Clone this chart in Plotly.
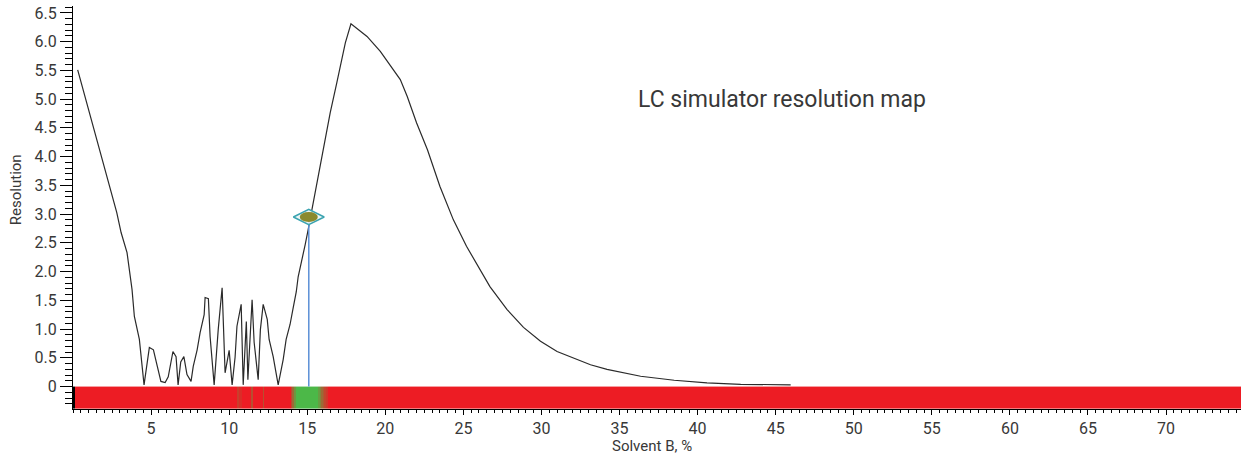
import plotly.graph_objects as go

# Resolution curve (Solvent B %, Resolution)
solvent_b = [0.3, 1.7, 2.8, 3.08, 3.46, 3.78, 3.93, 4.25, 4.55, 4.89, 5.15, 5.4, 5.63, 5.9, 6.1,
             6.4, 6.6, 6.73, 6.9, 7.1, 7.3, 7.56, 7.7, 7.95, 8.14, 8.4, 8.46, 8.67, 8.78, 9.04,
             9.3, 9.55, 9.74, 10.0, 10.19, 10.38, 10.5, 10.77, 10.9, 11.1, 11.2, 11.47, 11.6,
             11.86, 12.0, 12.18, 12.44, 12.56, 12.82, 13.14, 13.46, 13.65, 13.9, 14.1, 14.3,
             14.42, 14.68, 14.87, 15.06, 15.3, 15.62, 16.03, 16.47, 16.9, 17.44, 17.8, 18.83,
             19.68, 20.96, 21.4, 22.0, 22.7, 23.5, 24.36, 25.2, 26.7, 27.8, 28.85, 29.94, 31.0,
             32.05, 33.14, 34.2, 36.35, 38.5, 40.6, 42.76, 45.96]
resolution = [5.51, 4.12, 3.03, 2.68, 2.33, 1.69, 1.22, 0.82, 0.03, 0.68, 0.64, 0.35, 0.09, 0.07,
              0.17, 0.61, 0.52, 0.03, 0.43, 0.52, 0.21, 0.09, 0.35, 0.64, 0.94, 1.25, 1.55, 1.53,
              0.87, 0.03, 0.99, 1.72, 0.24, 0.63, 0.03, 0.51, 1.05, 1.43, 0.03, 1.13, 0.12, 1.51,
              0.77, 0.12, 0.99, 1.43, 1.17, 0.82, 0.52, 0.03, 0.47, 0.82, 1.08, 1.37, 1.65, 1.91,
              2.21, 2.47, 2.73, 3.08, 3.55, 4.12, 4.76, 5.29, 5.98, 6.31, 6.09, 5.83, 5.34, 5.05,
              4.59, 4.12, 3.48, 2.9, 2.44, 1.74, 1.34, 1.03, 0.79, 0.61, 0.50, 0.38, 0.30, 0.18,
              0.11, 0.064, 0.04, 0.03]

# Selected working point
selected_b = [15.1]
selected_res = [2.95]

# Colour bar (map) under the curve: band edges and quality value per band
bar_edges = [0, 0.13, 10.5, 10.65, 10.8, 11.4, 11.5, 12.15, 12.25, 13.95, 14.05, 14.15, 14.25,
             15.7, 15.8, 15.9, 16.0, 16.1, 16.2, 16.3, 74.8]
bar_quality = [0, 0.1, 0.3, 0.2, 0.1, 0.4, 0.1, 0.4, 0.1, 0.35, 0.55, 0.8, 1.0, 0.85, 0.7, 0.55,
               0.45, 0.35, 0.25, 0.1]
bar_band = [-0.39, 0]

x_ticks = [5, 10, 15, 20, 25, 30, 35, 40, 45, 50, 55, 60, 65, 70]
y_ticks = [0, 0.5, 1.0, 1.5, 2.0, 2.5, 3.0, 3.5, 4.0, 4.5, 5.0, 5.5, 6.0, 6.5]
y_tick_text = ["0", "0.5", "1.0", "1.5", "2.0", "2.5", "3.0", "3.5", "4.0", "4.5", "5.0",
               "5.5", "6.0", "6.5"]

TXT = "#383838"
FONT = "Roboto, Liberation Sans, sans-serif"

fig = go.Figure()

fig.add_trace(go.Heatmap(
    x=bar_edges, y=bar_band, z=[bar_quality], zmin=0, zmax=1,
    colorscale=[[0, "#000000"], [0.1, "#ed1c24"], [1, "#4cb848"]],
    showscale=False, hoverinfo="skip",
))

fig.add_trace(go.Scatter(
    x=solvent_b, y=resolution, mode="lines",
    line=dict(color="#2a2a2a", width=1.2), hoverinfo="skip", showlegend=False,
))

# vertical drop line from the selected point
fig.add_trace(go.Scatter(
    x=[selected_b[0], selected_b[0]], y=[0, selected_res[0]], mode="lines",
    line=dict(color="#5b8fd6", width=1.5), hoverinfo="skip", showlegend=False,
))

fig.add_trace(go.Scatter(
    x=selected_b, y=selected_res, mode="markers",
    marker=dict(symbol="diamond-wide", size=22, color="rgba(235,245,245,0.9)",
                line=dict(color="#3aa3b0", width=1.5)),
    hoverinfo="skip", showlegend=False,
))

fig.add_shape(type="circle", xref="x", yref="y",
              xsizemode="pixel", ysizemode="pixel",
              xanchor=selected_b[0], yanchor=selected_res[0],
              x0=-9, x1=9, y0=-5, y1=5,
              fillcolor="#8a8a2e", line=dict(width=0))

fig.add_annotation(x=45.4, y=5.0, xref="x", yref="y", text="LC simulator resolution map",
                   showarrow=False, font=dict(family=FONT, size=23, color=TXT))
fig.add_annotation(x=0.496, y=-0.092, xref="paper", yref="paper", text="Solvent B, %",
                   showarrow=False, yanchor="middle",
                   font=dict(family=FONT, size=15, color=TXT))
fig.add_annotation(x=-0.0488, y=0.543, xref="paper", yref="paper", text="Resolution",
                   showarrow=False, textangle=-90, xanchor="center", yanchor="middle",
                   font=dict(family=FONT, size=15, color=TXT))

fig.update_xaxes(
    range=[0, 74.8], showgrid=False, zeroline=False,
    showline=True, linecolor="#000", linewidth=1,
    tickmode="array", tickvals=x_ticks, ticks="outside", ticklen=5, tickcolor="#000",
    ticklabelstandoff=0,
    tickfont=dict(family=FONT, size=16, color=TXT),
    minor=dict(tickmode="linear", tick0=0, dtick=0.5, ticks="outside", ticklen=3,
               tickcolor="#000", showgrid=False),
)
fig.update_yaxes(
    range=[-0.39, 6.62], showgrid=False, zeroline=False,
    showline=True, linecolor="#000", linewidth=1,
    tickmode="array", tickvals=y_ticks, ticktext=y_tick_text,
    ticks="outside", ticklen=12, tickcolor="#000",
    tickfont=dict(family=FONT, size=16, color=TXT),
    minor=dict(tickmode="linear", tick0=0, dtick=0.1, ticks="outside", ticklen=7,
               tickcolor="#000", showgrid=False),
)

fig.update_layout(
    width=1241, height=456,
    margin=dict(l=73, r=0, t=6, b=47),
    plot_bgcolor="white", paper_bgcolor="white",
    showlegend=False,
)

fig.write_html("out.html", config={"displayModeBar": False},
               post_script="document.body.style.margin='0';")
